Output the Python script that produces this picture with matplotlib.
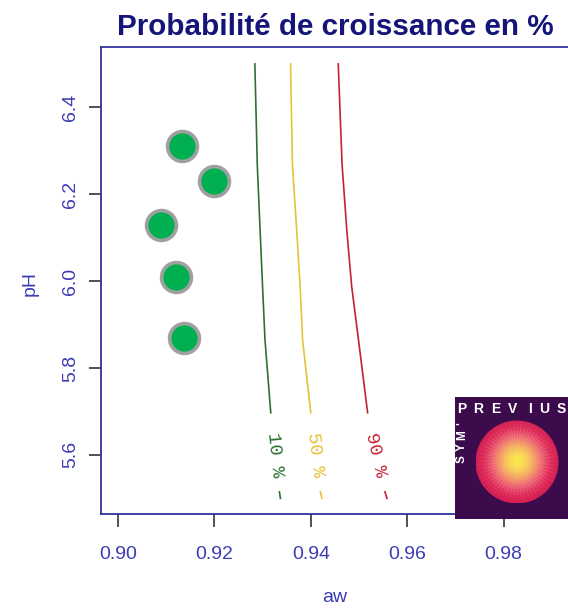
import numpy as np
import matplotlib
matplotlib.use("Agg")
import matplotlib.pyplot as plt
from matplotlib.patches import Circle
from matplotlib.colors import LinearSegmentedColormap

plt.rcParams['font.family'] = ['Liberation Sans', 'DejaVu Sans']

# Observed growth conditions
obs_aw = [0.9133, 0.9200, 0.9089, 0.9120, 0.9137]
obs_ph = [6.31, 6.23, 6.13, 6.01, 5.87]

# Growth-probability iso-lines (aw as a function of pH)
levels = ["10 %", "50 %", "90 %"]
iso_ph = [6.50, 6.268, 6.114, 5.987, 5.865, 5.697]
iso_aw = {
    "10 %": [0.9284, 0.9289, 0.9295, 0.9300, 0.9305, 0.9317],
    "50 %": [0.9358, 0.9362, 0.9371, 0.9378, 0.9383, 0.9400],
    "90 %": [0.9457, 0.9465, 0.9475, 0.9485, 0.9499, 0.9518],
}
# tail of each line below its label
tail_ph = [5.515, 5.50]
tail_aw = {
    "10 %": [0.9335, 0.9337],
    "50 %": [0.9420, 0.9423],
    "90 %": [0.9554, 0.9558],
}
label_ph = 5.60
label_aw = {"10 %": 0.9325, "50 %": 0.9409, "90 %": 0.9535}
label_rot = {"10 %": -84, "50 %": -83, "90 %": -77}
line_colors = {"10 %": "#2f6f2f", "50 %": "#e6c13a", "90 %": "#c32232"}

x_ticks = [0.90, 0.92, 0.94, 0.96, 0.98]
y_ticks = [5.6, 5.8, 6.0, 6.2, 6.4]

W, H = 568, 608
fig = plt.figure(figsize=(W / 100, H / 100), dpi=100)
ax = fig.add_axes([101 / W, 1 - 514 / H, 1 - 101 / W, (514 - 47) / H])
ax.set_xlim(0.89647, 0.99338)
ax.set_ylim(5.464, 6.539)

spine_col = "#3232a0"
text_col = "#3c3cb4"
for s in ("left", "bottom", "top"):
    ax.spines[s].set_color(spine_col)
    ax.spines[s].set_linewidth(1.3)
ax.spines["right"].set_visible(False)

ax.set_xticks(x_ticks)
ax.set_xticklabels([f"{v:.2f}" for v in x_ticks])
ax.set_yticks(y_ticks)
ax.set_yticklabels([f"{v:.1f}" for v in y_ticks])
ax.tick_params(axis="both", direction="out", length=9, width=1.2, color="#333333",
               labelcolor=text_col, labelsize=14)
ax.tick_params(axis="x", pad=14)
ax.tick_params(axis="y", pad=7, labelrotation=90)
for lbl in ax.get_yticklabels():
    lbl.set_va("center")

for lev in levels:
    c = line_colors[lev]
    ax.plot(iso_aw[lev], iso_ph, color=c, lw=1.2)
    ax.plot(tail_aw[lev], tail_ph, color=c, lw=1.2)
    ax.text(label_aw[lev], label_ph, lev, color=c, rotation=label_rot[lev],
            rotation_mode="anchor", ha="center", va="center",
            family="Liberation Mono", fontsize=13.5)

ax.plot(obs_aw, obs_ph, "o", ms=21.5, mfc="#00b050", mec="#a0a0a0", mew=2.6,
        zorder=5)

fig.text(335 / W, 1 - 35 / H, "Probabilité de croissance en %", ha="center",
         va="baseline", fontsize=21.3, fontweight="bold", color="#151579")
fig.text(335 / W, 1 - 597 / H, "aw", ha="center", va="center", fontsize=14,
         color=text_col)
fig.text(30 / W, 1 - 283 / H, "pH", ha="center", va="center", fontsize=14,
         color=text_col, rotation=90)

# Sym'Previus badge
lx0, ly0, lw_, lh_ = 455, 397, 113, 122
lax = fig.add_axes([lx0 / W, 1 - (ly0 + lh_) / H, lw_ / W, lh_ / H])
lax.set_xlim(0, lw_)
lax.set_ylim(0, lh_)
lax.set_facecolor("#3b0b4c")
for s in lax.spines.values():
    s.set_visible(False)
lax.set_xticks([])
lax.set_yticks([])

cx, cy, R = 62, 57, 41.5
n = 400
gx, gy = np.meshgrid(np.linspace(cx - R, cx + R, n), np.linspace(cy - R, cy + R, n))
rr = np.hypot(gx - cx, gy - cy) / R
th = np.arctan2(gy - cy, gx - cx)
sun = LinearSegmentedColormap.from_list(
    "sun", ["#fbe94a", "#f9d35a", "#f5a866", "#ee6a78", "#e0305e", "#d01c50"])
rays = 0.5 + 0.5 * np.cos(60 * th)
dots = 0.5 + 0.5 * np.cos(2 * np.pi * rr * 14)
val = rr ** 0.8 - 0.22 * rays * (1 - rr) - 0.12 * dots * rr * rays
img = sun(np.clip(val, 0, 1))
im = lax.imshow(img, extent=(cx - R, cx + R, cy - R, cy + R), origin="lower",
                interpolation="bilinear")
im.set_clip_path(Circle((cx, cy), R, transform=lax.transData))

for ch, px in zip("PREVIUS", [7, 23, 41, 58, 75, 89, 106]):
    lax.text(px, 110, ch, color="white", fontsize=10, fontweight="bold",
             ha="center", va="center")
for ch, py in zip("SYM'", [60, 72, 84, 95]):
    lax.text(7, py, ch, color="white", fontsize=8.5, fontweight="bold",
             ha="center", va="center", rotation=90)

fig.savefig("out.png", dpi=100)
